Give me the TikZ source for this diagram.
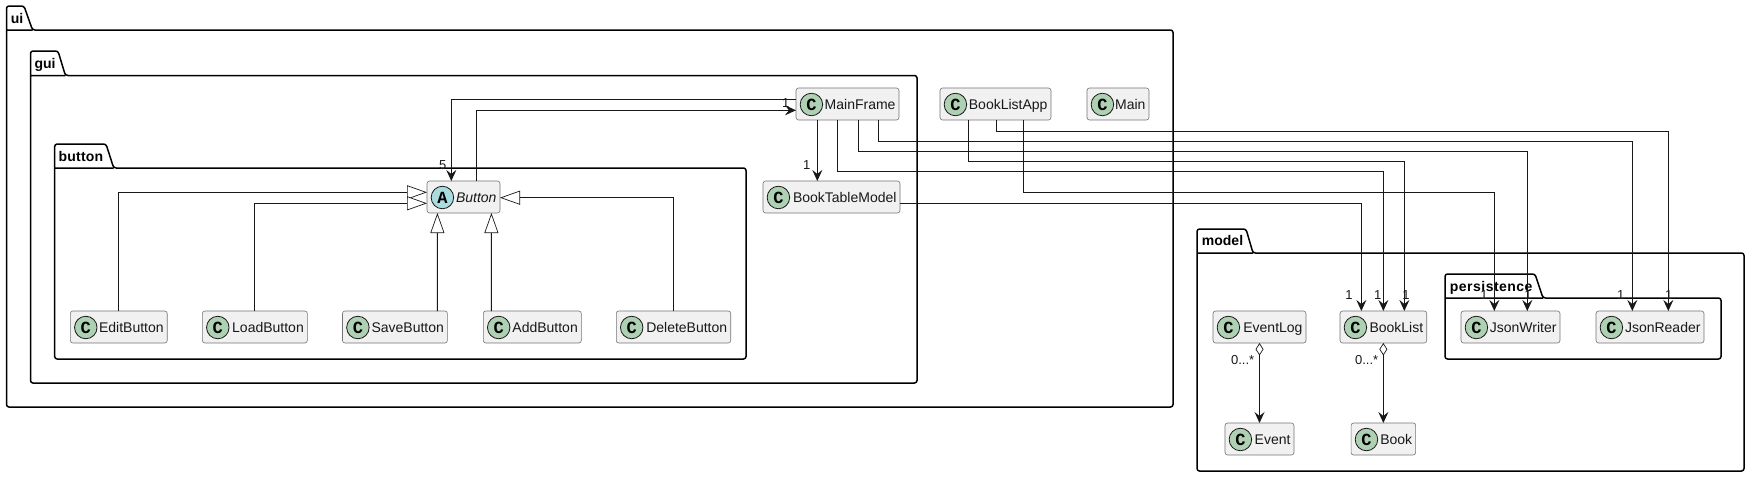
\documentclass[tikz,border=0pt]{standalone}
\usepackage{fontspec}
\setmainfont{Liberation Sans}
\newfontfamily\iconfont{Liberation Mono}
\usetikzlibrary{arrows.meta,positioning}
\definecolor{lineColor}{HTML}{181818}
\definecolor{boxColor}{HTML}{F1F1F1}
\definecolor{classColor}{HTML}{ADD1B2}
\definecolor{abstractColor}{HTML}{A9DCDF}
\tikzset{
	classbox/.style={draw=lineColor!60, line width=0.6pt, fill=boxColor, rounded corners=2.5pt, outer sep=0,
		text width=#1, align=right, inner xsep=3.5pt, inner ysep=0, minimum height=32pt,
		text height=12pt, text depth=1pt, text=lineColor, font=\fontsize{14}{16}\selectfont},
	classicon/.style={circle, draw=lineColor, line width=0.8pt, fill=classColor, minimum size=22.5pt, inner sep=0,
		font=\iconfont\bfseries\fontsize{17}{17}\selectfont},
	pkgline/.style={line width=1.5pt, rounded corners=2.5pt},
	pkglabel/.style={anchor=base west, inner sep=0, font=\bfseries\fontsize{14}{16}\selectfont},
	mult/.style={inner sep=0, text=lineColor, font=\fontsize{13}{15}\selectfont},
	depend/.style={draw=lineColor, line width=1pt, -{Stealth[length=11pt,width=10pt,inset=4pt]}},
	extend/.style={draw=lineColor, line width=1pt, -{Triangle[length=20pt,width=14pt,fill=white,line width=0.7pt]}},
	aggregate/.style={draw=lineColor, line width=1pt, {Diamond[length=12.5pt,width=8pt,fill=white,line width=0.7pt]}-{Stealth[length=11pt,width=10pt,inset=4pt]}}
}

\begin{document}
\begin{tikzpicture}[x=1pt,y=-1pt]
\useasboundingbox (0,0) rectangle (1750,477);
% packages
\draw[pkgline] (6.5,30) -- (6.5,6) -- (24,6) -- (32.5,30) -- (1173,30) -- (1173,407) -- (6.5,407) -- cycle (6.5,30) -- (32.5,30);
\draw[pkgline] (30.5,75.5) -- (30.5,51) -- (58,51) -- (65.4,75.5) -- (917,75.5) -- (917,383) -- (30.5,383) -- cycle (30.5,75.5) -- (65.4,75.5);
\draw[pkgline] (54.7,168) -- (54.7,144) -- (106,144) -- (113.7,168) -- (746,168) -- (746,359) -- (54.7,359) -- cycle (54.7,168) -- (113.7,168);
\draw[pkgline] (1197,253) -- (1197,229) -- (1246,229) -- (1253,253) -- (1744,253) -- (1744,471) -- (1197,471) -- cycle (1197,253) -- (1253,253);
\draw[pkgline] (1445,298) -- (1445,274) -- (1535,274) -- (1543,298) -- (1721,298) -- (1721,359) -- (1445,359) -- cycle (1445,298) -- (1543,298);
\node[pkglabel] (uiLabel) at (10.7,23.3) {ui};
\node[pkglabel] (guiLabel) at (34.4,68) {gui};
\node[pkglabel] (buttonLabel) at (58.5,161) {\addfontfeature{LetterSpace=1.5}button};
\node[pkglabel] (modelLabel) at (1201.7,245.7) {model};
\node[pkglabel] (persistenceLabel) at (1449.7,291.7) {\addfontfeature{LetterSpace=3.4}persistence};
% classes
\node[classbox=66pt] (Button) at (463.5,197) {\itshape Button};
\node[classicon, fill=abstractColor] (ButtonIcon) at ([xshift=15.4pt,yshift=-0.5pt]Button.west) {A};
\node[classbox=96pt] (MainFrame) at (847.5,104) {MainFrame};
\node[classicon] (MainFrameIcon) at ([xshift=15.4pt,yshift=-0.5pt]MainFrame.west) {C};
\node[classbox=130pt] (BookTableModel) at (831.5,197) {BookTableModel};
\node[classicon] (BookTableModelIcon) at ([xshift=15.4pt,yshift=-0.5pt]BookTableModel.west) {C};
\node[classbox=104pt] (BookListApp) at (995.5,104) {BookListApp};
\node[classicon] (BookListAppIcon) at ([xshift=15.4pt,yshift=-0.5pt]BookListApp.west) {C};
\node[classbox=55pt] (Main) at (1118,104) {Main};
\node[classicon] (MainIcon) at ([xshift=15.4pt,yshift=-0.5pt]Main.west) {C};
\node[classbox=89.8pt] (EditButton) at (118.8,327) {EditButton};
\node[classicon] (EditButtonIcon) at ([xshift=15.4pt,yshift=-0.5pt]EditButton.west) {C};
\node[classbox=97.9pt] (LoadButton) at (254.85,327) {LoadButton};
\node[classicon] (LoadButtonIcon) at ([xshift=15.4pt,yshift=-0.5pt]LoadButton.west) {C};
\node[classbox=97.9pt] (SaveButton) at (394.95,327) {SaveButton};
\node[classicon] (SaveButtonIcon) at ([xshift=15.4pt,yshift=-0.5pt]SaveButton.west) {C};
\node[classbox=91pt] (AddButton) at (532.3,327) {AddButton};
\node[classicon] (AddButtonIcon) at ([xshift=15.4pt,yshift=-0.5pt]AddButton.west) {C};
\node[classbox=107.4pt] (DeleteButton) at (673.5,327) {DeleteButton};
\node[classicon] (DeleteButtonIcon) at ([xshift=15.4pt,yshift=-0.5pt]DeleteButton.west) {C};
\node[classbox=79.7pt] (BookList) at (1383.35,327) {BookList};
\node[classicon] (BookListIcon) at ([xshift=15.4pt,yshift=-0.5pt]BookList.west) {C};
\node[classbox=92pt] (JsonWriter) at (1510.5,327) {JsonWriter};
\node[classicon] (JsonWriterIcon) at ([xshift=15.4pt,yshift=-0.5pt]JsonWriter.west) {C};
\node[classbox=101pt] (JsonReader) at (1650,327) {JsonReader};
\node[classicon] (JsonReaderIcon) at ([xshift=15.4pt,yshift=-0.5pt]JsonReader.west) {C};
\node[classbox=86pt] (EventLog) at (1259.5,327) {EventLog};
\node[classicon] (EventLogIcon) at ([xshift=15.4pt,yshift=-0.5pt]EventLog.west) {C};
\node[classbox=62pt] (Event) at (1259.5,439) {Event};
\node[classicon] (EventIcon) at ([xshift=15.4pt,yshift=-0.5pt]Event.west) {C};
\node[classbox=57.6pt] (Book) at (1383.35,439) {Book};
\node[classicon] (BookIcon) at ([xshift=15.4pt,yshift=-0.5pt]Book.west) {C};
% inheritance
\draw[extend] (EditButton.north) |- ([yshift=4.7pt]Button.west);
\draw[extend] (LoadButton.north) |- ([yshift=-6.3pt]Button.west);
\draw[extend] ([xshift=42.4pt]SaveButton.north) -- ([xshift=-26.1pt]Button.south);
\draw[extend] ([xshift=-40.9pt]AddButton.north) -- ([xshift=27.9pt]Button.south);
\draw[extend] (DeleteButton.north) |- ([yshift=-0.7pt]Button.east);
% associations
\draw[depend] ([yshift=4.7pt]MainFrame.west) -| ([xshift=-12.2pt]Button.north);
\draw[depend] ([xshift=12.8pt]Button.north) |- ([yshift=-6.3pt]MainFrame.west);
\draw[depend] ([xshift=-30.2pt]MainFrame.south) -- ([xshift=-14.2pt]BookTableModel.north);
\draw[depend] ([xshift=-9.8pt]MainFrame.south) -- ++(0,51.3) -| (BookList.north);
\draw[depend] ([xshift=11.2pt]MainFrame.south) -- ++(0,31.3) -| ([xshift=16.8pt]JsonWriter.north);
\draw[depend] ([xshift=31.2pt]MainFrame.south) -- ++(0,21.3) -| ([xshift=-17.7pt]JsonReader.north);
\draw[depend] ([xshift=-27.2pt]BookListApp.south) -- ++(0,41.3) -| ([xshift=21pt]BookList.north);
\draw[depend] ([xshift=0.8pt]BookListApp.south) -- ++(0,11.3) -| ([xshift=18.3pt]JsonReader.north);
\draw[depend] ([xshift=27.8pt]BookListApp.south) -- ++(0,72.3) -| ([xshift=-16.2pt]JsonWriter.north);
\draw[depend] ([yshift=-6.3pt]BookTableModel.east) -| ([xshift=-22pt]BookList.north);
\draw[aggregate] (EventLog.south) -- (Event.north);
\draw[aggregate] (BookList.south) -- (Book.north);
% multiplicities
\node[mult] (multButton) at (442.7,165) {5};
\node[mult] (multMainFrame) at (785.7,102.7) {1};
\node[mult] (multBookTableModel) at (806.7,165) {1};
\node[mult] (multBookListA) at (1349,295) {1};
\node[mult] (multBookListB) at (1377.7,295) {1};
\node[mult] (multBookListC) at (1406,295) {1};
\node[mult] (multJsonWriterA) at (1484,295) {1};
\node[mult] (multJsonWriterB) at (1528,295) {1};
\node[mult] (multJsonReaderA) at (1620.7,295) {1};
\node[mult] (multJsonReaderB) at (1668.7,295) {1};
\node[mult] (multEvent) at (1242.7,360) {0...*};
\node[mult] (multBook) at (1366.7,360) {0...*};
\end{tikzpicture}
\end{document}
